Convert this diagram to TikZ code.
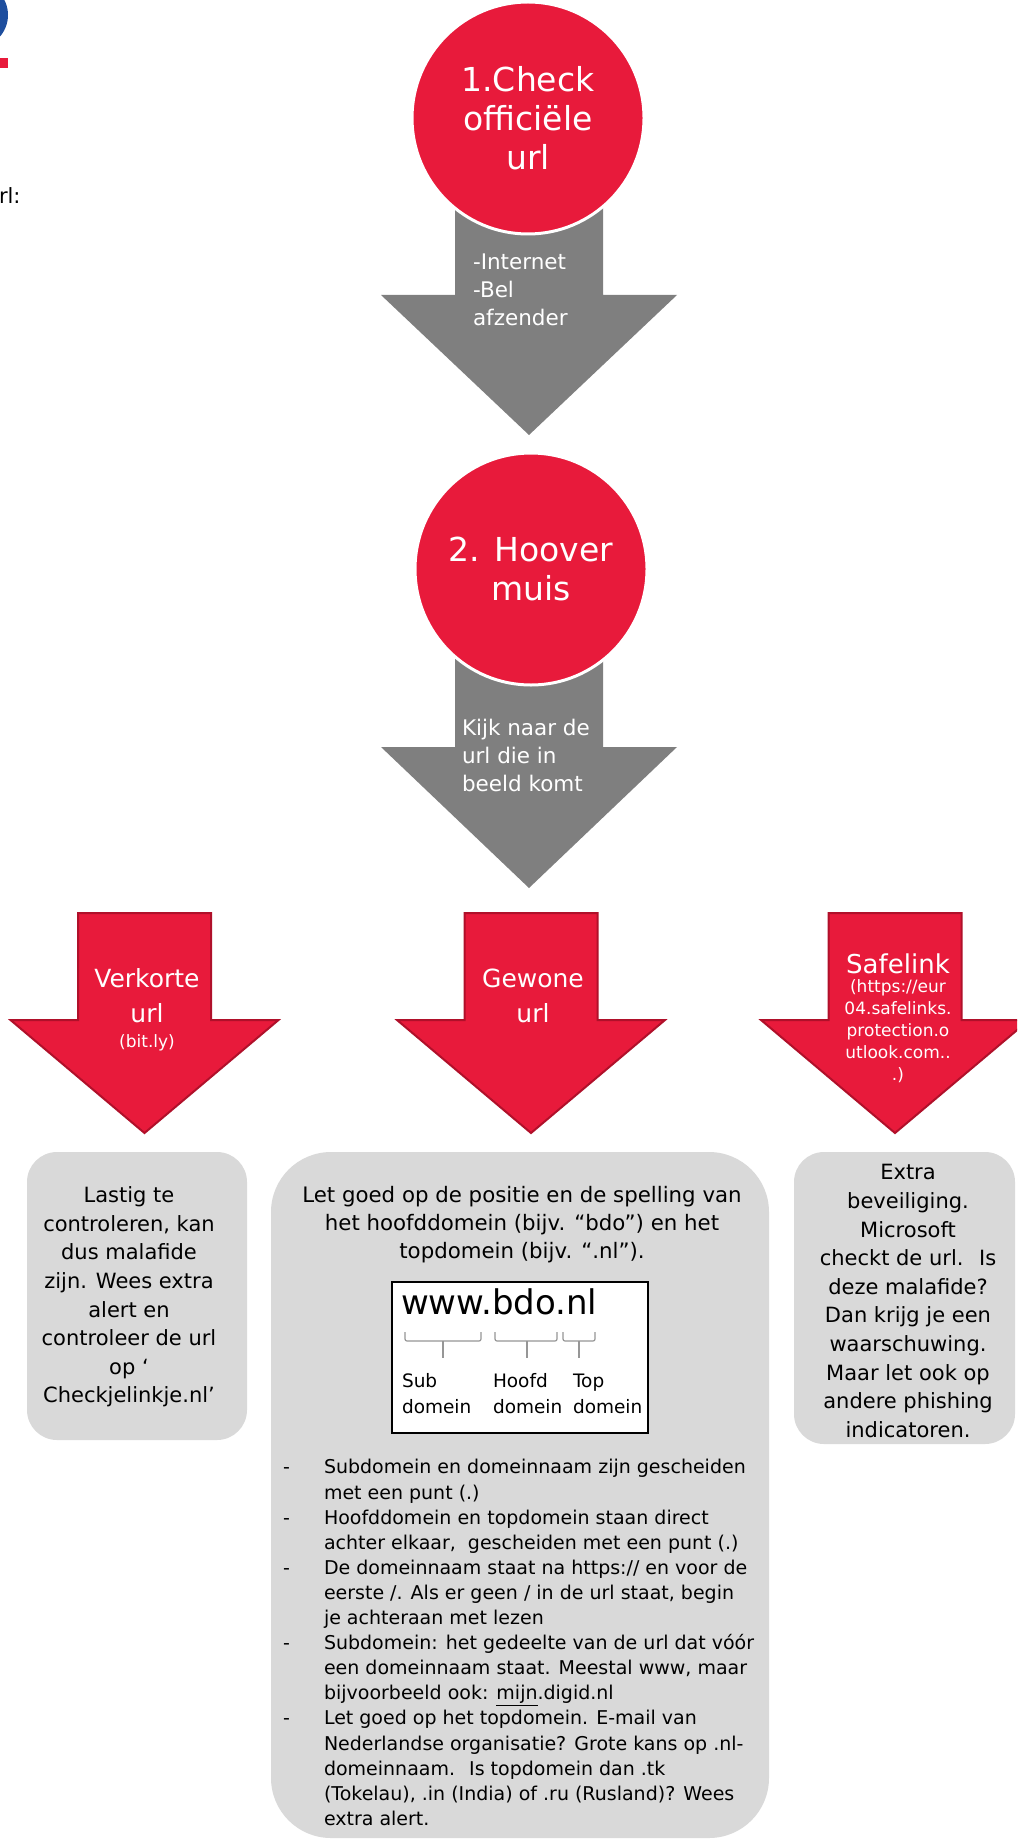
\documentclass[tikz,border=0pt]{standalone}
\usepackage{fontspec}
\setmainfont{DejaVu Sans}

\definecolor{bdored}{RGB}{232,26,59}
\definecolor{bdoredline}{RGB}{176,16,42}
\definecolor{arrowgray}{RGB}{127,127,127}
\definecolor{boxgray}{RGB}{217,217,217}
\definecolor{bracegray}{RGB}{150,150,150}
\definecolor{logoblue}{RGB}{30,78,158}

% block arrow pointing down: style, centre x, shaft top, head top, tip, shaft half width, head half width
\newcommand{\blockarrow}[7]{%
  \path[#1] (#2-#6,#3) -- (#2+#6,#3) -- (#2+#6,#4) -- (#2+#7,#4) -- (#2,#5)
    -- (#2-#7,#4) -- (#2-#6,#4) -- cycle;}
\newcommand{\dashitem}{\makebox[41pt][l]{-}}
\newcommand{\contline}{\hspace*{41pt}}

\begin{document}
\begin{tikzpicture}[x=1pt,y=-1pt,
  every node/.style={inner sep=0pt, outer sep=0pt},
  stepcircle/.style={circle, fill=bdored, draw=white, line width=3pt,
    minimum size=232pt, text=white, align=center,
    font=\fontsize{33}{39}\selectfont},
  grayarrow/.style={fill=arrowgray},
  redarrow/.style={fill=bdored, draw=bdoredline, line width=2pt},
  arrowtext/.style={text=white, align=left, font=\fontsize{21.5}{28}\selectfont},
  redlabel/.style={text=white, align=center, font=\fontsize{25}{35}\selectfont},
  smalllabel/.style={text=white, align=center, font=\fontsize{17}{22}\selectfont},
  panel/.style={fill=boxgray, draw=none},
  paneltext/.style={align=center, font=\fontsize{21}{28.6}\selectfont},
  urlbox/.style={fill=white, draw=black, line width=1.2pt},
  brace/.style={draw=bracegray, line width=1.2pt, rounded corners=2pt},
  domainlabel/.style={align=left, font=\fontsize{18.5}{26}\selectfont},
]
\useasboundingbox (0,0) rectangle (1017,1843);
\clip (0,0) rectangle (1017,1843);

% page fragments in the top left corner
\fill[logoblue] (-25,15) circle[radius=33pt];
\fill[bdored] (0,58) rectangle (8,68);
\node[anchor=base west, font=\fontsize{21}{26}\selectfont] (cut) at (-1,204) {rl:};

% step 1
\blockarrow{grayarrow}{529}{180}{295}{435}{74}{148}
\node[stepcircle] (s1) at (528,118) {1.Check\\officiële\\url};
\node[arrowtext, anchor=west] (a1) at (473,290) {-Internet\\-Bel\\afzender};

% step 2
\blockarrow{grayarrow}{529}{620}{747}{888}{74}{148}
\node[stepcircle] (s2) at (531,569) {2. Hoover\\muis};
\node[arrowtext, anchor=west] (a2) at (462,755) {Kijk naar de\\url die in\\beeld komt};

% three kinds of url
\blockarrow{redarrow}{144.5}{913}{1020}{1133}{66.5}{134}
\blockarrow{redarrow}{531}{913}{1020}{1133}{66.5}{134}
\blockarrow{redarrow}{895}{913}{1020}{1133}{66.5}{134}

\node[redlabel] (k1) at (147,995.5) {Verkorte\\url};
\node[smalllabel] (k1s) at (147,1043) {(bit.ly)};
\node[redlabel] (k2) at (533,995.5) {Gewone\\url};
\node[redlabel, font=\fontsize{26}{30}\selectfont] (k3) at (898,964) {Safelink};
\node[smalllabel] (k3s) at (898,1031) {(https://eur\\04.safelinks.\\protection.o\\utlook.com..\\.)};

% explanation panels
\node[panel, rounded corners=30pt, minimum width=220pt, minimum height=288pt] (p1) at (137,1296) {};
\node[panel, rounded corners=60pt, minimum width=498pt, minimum height=686pt] (p2) at (520,1495) {};
\node[panel, rounded corners=30pt, minimum width=221pt, minimum height=292pt] (p3) at (904.5,1298) {};

\node[paneltext] (t1) at (129,1297) {Lastig te\\controleren, kan\\dus malafide\\zijn. Wees extra\\alert en\\controleer de url\\op ‘\\Checkjelinkje.nl’};
\node[paneltext] (t3) at (908,1301) {Extra\\beveiliging.\\Microsoft\\checkt de url.~ Is\\deze malafide?\\Dan krijg je een\\waarschuwing.\\Maar let ook op\\andere phishing\\indicatoren.};

\node[paneltext, font=\fontsize{21.3}{28}\selectfont] (t2) at (522,1225) {Let goed op de positie en de spelling van\\het hoofddomein (bijv. “bdo”) en het\\topdomein (bijv. “.nl”).};

% example domain
\node[urlbox, minimum width=256pt, minimum height=151pt] (u) at (520,1357.5) {};
\node[anchor=base west, font=\fontsize{34}{40}\selectfont] (www) at (401,1314) {www.bdo.nl};
\draw[brace] (405,1332) -- (405,1341) -- (481,1341) -- (481,1332);
\draw[brace] (443,1341) -- (443,1358);
\draw[brace] (495,1332) -- (495,1341) -- (557,1341) -- (557,1332);
\draw[brace] (527,1341) -- (527,1358);
\draw[brace] (563,1332) -- (563,1341) -- (595,1341) -- (595,1332);
\draw[brace] (579,1341) -- (579,1358);
\node[domainlabel, anchor=west] (d1) at (402,1394) {Sub\\domein};
\node[domainlabel, anchor=west] (d2) at (493,1394) {Hoofd\\domein};
\node[domainlabel, anchor=west] (d3) at (573,1394) {Top\\domein};

% notes on reading a domain
\node[anchor=west, align=left, font=\fontsize{19}{25.1}\selectfont] (notes) at (283,1642.5) {%
\dashitem Subdomein en domeinnaam zijn gescheiden\\
\contline met een punt (.)\\
\dashitem Hoofddomein en topdomein staan direct\\
\contline achter elkaar,~ gescheiden met een punt (.)\\
\dashitem De domeinnaam staat na https:// en voor de\\
\contline eerste /. Als er geen / in de url staat, begin\\
\contline je achteraan met lezen\\
\dashitem Subdomein: het gedeelte van de url dat vóór\\
\contline een domeinnaam staat. Meestal www, maar\\
\contline bijvoorbeeld ook: \underline{mijn}.digid.nl\\
\dashitem Let goed op het topdomein. E-mail van\\
\contline Nederlandse organisatie? Grote kans op .nl-\\
\contline domeinnaam.~ Is topdomein dan .tk\\
\contline (Tokelau), .in (India) of .ru (Rusland)? Wees\\
\contline extra alert.};
\end{tikzpicture}
\end{document}
